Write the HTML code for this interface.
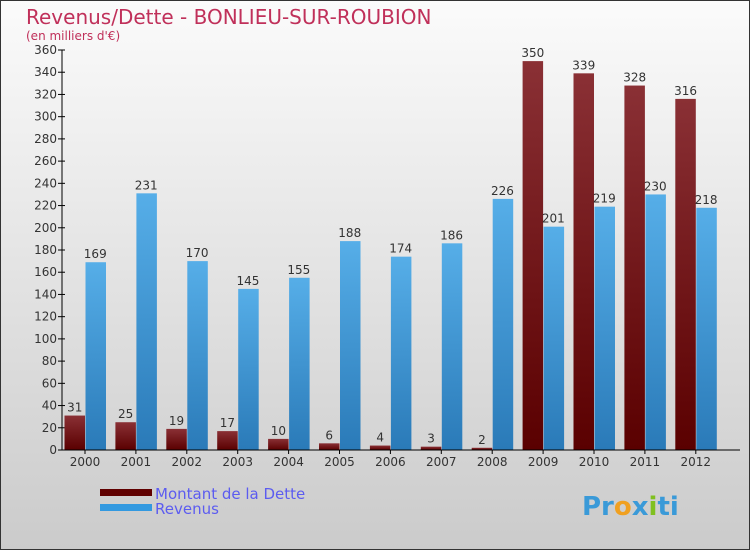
<!DOCTYPE html>
<html><head><meta charset="utf-8"><style>
body{margin:0;}
svg{display:block;font-family:"DejaVu Sans","Liberation Sans",sans-serif;}
</style></head><body>
<svg id="c" width="750" height="550" viewBox="0 0 750 550">
<defs>
<linearGradient id="bg" x1="0" y1="0" x2="0" y2="1"><stop offset="0" stop-color="#fbfbfb"/><stop offset="1" stop-color="#cbcbcb"/></linearGradient>
<linearGradient id="gd" x1="0" y1="0" x2="0" y2="1"><stop offset="0" stop-color="#8a3035"/><stop offset="1" stop-color="#5a0000"/></linearGradient>
<linearGradient id="gr" x1="0" y1="0" x2="0" y2="1"><stop offset="0" stop-color="#56aee8"/><stop offset="1" stop-color="#2a7ab8"/></linearGradient>
</defs>
<rect x="0.5" y="0.5" width="749" height="549" fill="url(#bg)" stroke="#333"/>
<text x="26" y="24" font-size="20" fill="#c0305a">Revenus/Dette - BONLIEU-SUR-ROUBION</text>
<text x="26" y="40" font-size="12" fill="#c0305a">(en milliers d'€)</text>
<g id="plot"></g>
<rect x="100" y="489" width="52" height="7" fill="#600000"/>
<text x="155" y="499" font-size="15" fill="#5c5cf0">Montant de la Dette</text>
<rect x="100" y="504" width="52" height="7" fill="#3399e0"/>
<text x="155" y="514" font-size="15" fill="#5c5cf0">Revenus</text>
<text x="582" y="515" font-size="26" font-weight="bold"><tspan fill="#3a9ad8">Pr</tspan><tspan fill="#f0a020">o</tspan><tspan fill="#3a9ad8">x</tspan><tspan fill="#80c020">i</tspan><tspan fill="#3a9ad8">ti</tspan></text>
</svg>
<script>
const years=["2000","2001","2002","2003","2004","2005","2006","2007","2008","2009","2010","2011","2012"];
const dette=[31,25,19,17,10,6,4,3,2,350,339,328,316];
const revenus=[169,231,170,145,155,188,174,186,226,201,219,230,218];
const yTicks=[0,20,40,60,80,100,120,140,160,180,200,220,240,260,280,300,320,340,360];
const NS="http://www.w3.org/2000/svg";
const g=document.getElementById('plot');
const x0=62,y0=450,ppu=400/360,step=50.9,bw=20.5;
const ys=v=>y0-v*ppu;
function el(t,a){const e=document.createElementNS(NS,t);for(const k in a)e.setAttribute(k,a[k]);g.appendChild(e);return e;}
yTicks.forEach(t=>{
 const l=el('line',{x1:x0-4,x2:x0+3,y1:ys(t),y2:ys(t),stroke:'#000'});
 
 
 const tx=el('text',{x:x0-5,y:ys(t)+4,'font-size':12,'text-anchor':'end',fill:'#333'});
 tx.textContent=t;
 
 
});
years.forEach((yr,i)=>{
 const cx=x0+23+i*step;
 const d=el('rect',{x:cx-bw,y:ys(dette[i]),width:bw,height:dette[i]*ppu,fill:'url(#gd)'});
 
 
 const r=el('rect',{x:cx+0.5,y:ys(revenus[i]),width:bw,height:revenus[i]*ppu,fill:'url(#gr)'});
 
 
 const dl=el('text',{x:cx-bw/2,y:ys(dette[i])-4,'font-size':12,'text-anchor':'middle',fill:'#333'});
 dl.textContent=dette[i];
 
 
 const rl=el('text',{x:cx+bw/2,y:ys(revenus[i])-4,'font-size':12,'text-anchor':'middle',fill:'#333'});
 rl.textContent=revenus[i];
 
 
 const xl=el('text',{x:cx,y:466,'font-size':12,'text-anchor':'middle',fill:'#333'});
 xl.textContent=yr;
 
 
 const xt=el('line',{x1:cx,x2:cx,y1:y0,y2:y0+4,stroke:'#000'});
 
 
});
const ya=el('line',{x1:x0,x2:x0,y1:50,y2:y0,stroke:'#000'});


const xa=el('line',{x1:x0,x2:740,y1:y0,y2:y0,stroke:'#000'});


</script>
</body></html>
